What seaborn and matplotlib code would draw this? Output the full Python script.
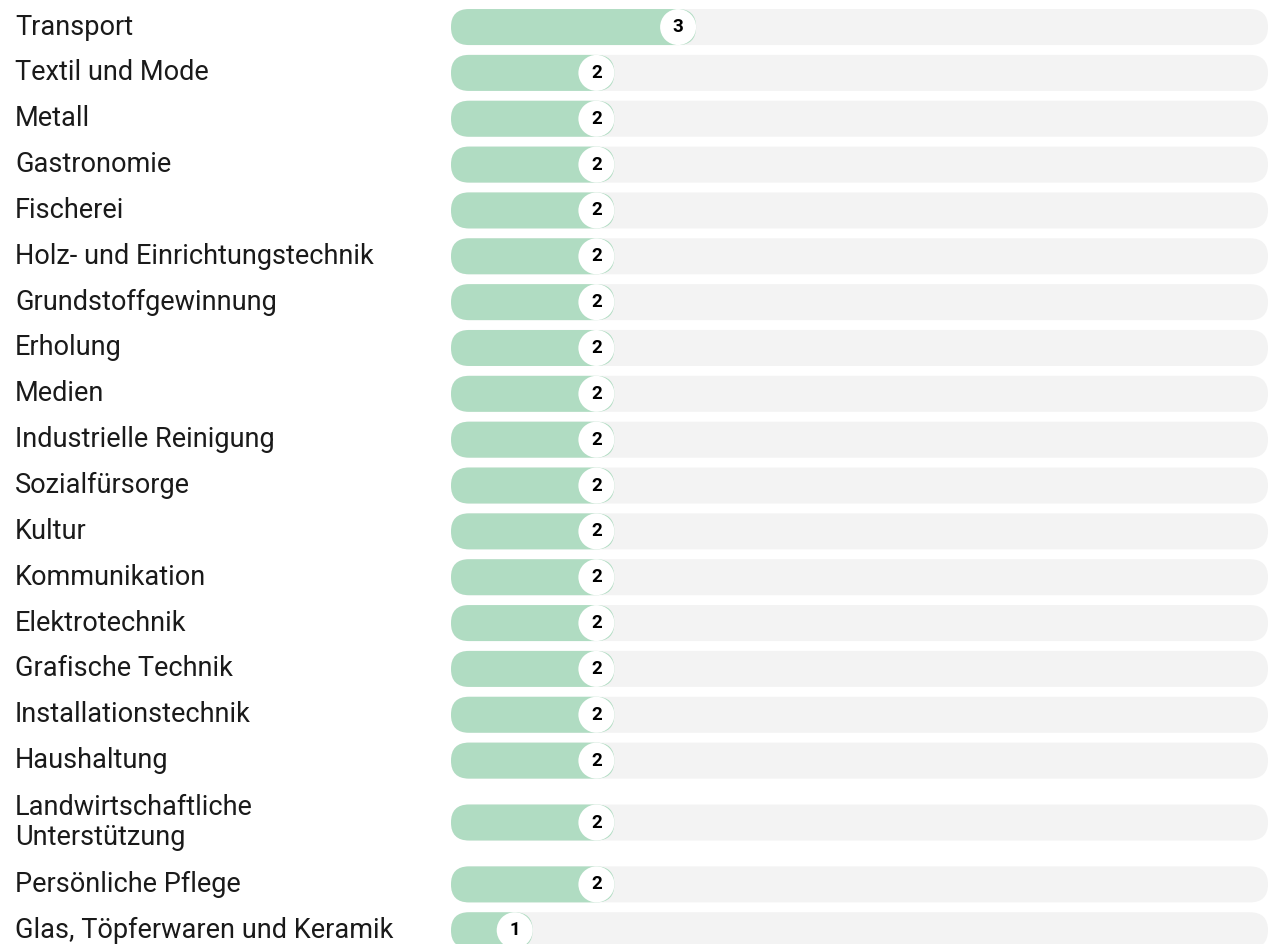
import numpy as np
import matplotlib
matplotlib.use("Agg")
import matplotlib.pyplot as plt
import matplotlib.transforms as mtransforms
from matplotlib.patches import FancyBboxPatch
import seaborn as sns

# Daten
categories = [
    "Transport", "Textil und Mode", "Metall", "Gastronomie", "Fischerei",
    "Holz- und Einrichtungstechnik", "Grundstoffgewinnung", "Erholung", "Medien",
    "Industrielle Reinigung", "Sozialfürsorge", "Kultur", "Kommunikation",
    "Elektrotechnik", "Grafische Technik", "Installationstechnik", "Haushaltung",
    "Landwirtschaftliche\nUnterstützung", "Persönliche Pflege",
    "Glas, Töpferwaren und Keramik",
]
values = [3, 2, 2, 2, 2, 2, 2, 2, 2, 2, 2, 2, 2, 2, 2, 2, 2, 2, 2, 1]
max_value = 10

FILL = "#b0dcc2"
TRACK = "#f3f3f3"

sns.set_theme(style="white")
plt.rcParams["font.family"] = ["Roboto", "DejaVu Sans"]

# Zeilenpositionen (zweizeilige Beschriftungen brauchen mehr Platz)
heights = [1.7 if "\n" in c else 1.0 for c in categories]
ypos = []
cur = 0.0
for i, h in enumerate(heights):
    if i > 0:
        cur += heights[i - 1] / 2 + h / 2
    ypos.append(cur)

W, H, DPI = 12.8, 9.44, 100
fig = plt.figure(figsize=(W, H), dpi=DPI)
ax_left, ax_right = 451 / 1280, 1268 / 1280
ax = fig.add_axes([ax_left, 0, ax_right - ax_left, 1])

# Hintergrund- und Wertebalken
sns.barplot(x=[max_value] * len(values), y=ypos, orient="h", native_scale=True,
            color=TRACK, saturation=1, ax=ax)
n_track = len(ax.patches)
sns.barplot(x=values, y=ypos, orient="h", native_scale=True,
            color=FILL, saturation=1, ax=ax)

ax.set_xlim(0, max_value)
ax.set_ylim(ypos[-1] + 0.3, -0.59)

# Pixel pro Dateneinheit
px_x = W * DPI * (ax_right - ax_left) / max_value
y0, y1 = ax.get_ylim()
px_y = H * DPI / abs(y0 - y1)
bar_px = 36
r_x = bar_px / 2 / px_x
bar_h = bar_px / px_y
aspect = px_x / px_y

for i, p in enumerate(list(ax.patches)):
    x0, w = p.get_x(), p.get_width()
    yc = p.get_y() + p.get_height() / 2
    fc = p.get_facecolor()
    p.remove()
    ax.add_patch(FancyBboxPatch(
        (x0, yc - bar_h / 2), w, bar_h,
        boxstyle=f"round,pad=0,rounding_size={r_x}",
        mutation_aspect=aspect, facecolor=fc, edgecolor="none",
        zorder=1 if i < n_track else 2))

# Kreise mit Werten am Balkenende
shift = mtransforms.ScaledTranslation(-bar_px / 2 / DPI, 0, fig.dpi_scale_trans)
sns.scatterplot(x=values, y=ypos, s=(bar_px * 0.72) ** 2, color="white",
                edgecolor="none", transform=ax.transData + shift, ax=ax, zorder=3,
                legend=False)
for v, y in zip(values, ypos):
    ax.text(v, y, str(v), transform=ax.transData + shift, ha="center", va="center",
            fontsize=13.5, fontweight="bold", color="black", zorder=4)

# Beschriftungen links
lab_trans = mtransforms.blended_transform_factory(fig.transFigure, ax.transData)
for c, y in zip(categories, ypos):
    ax.text(15 / 1280, y, c, transform=lab_trans, ha="left", va="center",
            fontsize=19.5, color="#1a1a1a", linespacing=1.15, clip_on=False)

ax.set_xlim(0, max_value)
ax.set_ylim(ypos[-1] + 0.3, -0.59)
ax.axis("off")

fig.savefig("out.png", dpi=DPI)
